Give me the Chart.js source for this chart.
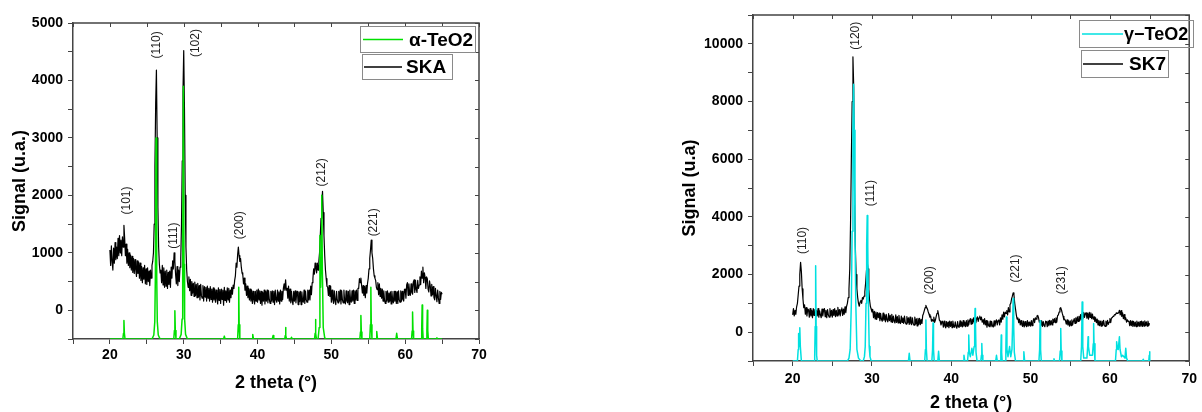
<!DOCTYPE html>
<html>
<head>
<meta charset="utf-8">
<script src="https://cdn.jsdelivr.net/npm/chart.js@4.4.1/dist/chart.umd.min.js"></script>
<style>
  body { margin: 0; background: #fff; width: 1202px; height: 412px; overflow: hidden; position: relative; }
  canvas { position: absolute; top: 0; }
  #c1 { left: 0; }
  #c2 { left: 640px; }
</style>
</head>
<body>
<canvas id="c1" width="520" height="412"></canvas>
<canvas id="c2" width="562" height="412"></canvas>
<script>
// ======================
// DATA - panel kiri (SKA / alpha-TeO2)
// ======================

// SKA : pas de 0.1 degre, de 20 a 65 (une ligne = 1 degre)
const skaStart = 20, skaStep = 0.1;
const skaY = [
  1050, 780, 1120, 850, 700, 1080, 820, 1180, 880, 1100,     // 20
  900, 1250, 950, 1300, 1000, 1220, 950, 1280, 1100, 1480,   // 21
  1250, 950, 1150, 820, 1060, 780, 1000, 740, 960, 700,      // 22
  940, 660, 900, 640, 880, 700, 590, 860, 640, 840,          // 23
  560, 820, 520, 760, 480, 740, 540, 780, 460, 720,          // 24
  450, 740, 500, 680, 430, 700, 560, 780, 850, 1000,         // 25
  1500, 2500, 3600, 4180, 3000, 1800, 1100, 800, 650, 700,   // 26
  480, 780, 440, 740, 400, 680, 420, 700, 380, 660,          // 27
  450, 680, 400, 750, 560, 860, 720, 1000, 850, 620,         // 28
  460, 760, 430, 700, 500, 750, 900, 1500, 2600, 3800,       // 29
  4520, 3500, 2000, 1100, 700, 500, 400, 580, 340, 540,      // 30
  260, 500, 300, 470, 240, 490, 260, 450, 220, 470,          // 31
  230, 430, 180, 450, 250, 210, 430, 160, 410, 230,          // 32
  400, 160, 420, 210, 380, 160, 410, 190, 370, 140,          // 33
  390, 180, 370, 140, 350, 200, 110, 390, 170, 360,          // 34
  120, 370, 190, 350, 90, 400, 170, 340, 140, 390,           // 35
  180, 380, 140, 350, 220, 400, 280, 440, 380, 520,          // 36
  600, 820, 750, 960, 1100, 950, 850, 900, 750, 650,         // 37
  620, 460, 560, 350, 460, 260, 420, 220, 380, 180,          // 38
  370, 160, 350, 120, 330, 180, 110, 330, 160, 350,          // 39
  140, 370, 180, 340, 120, 330, 90, 310, 160, 350,           // 40
  110, 330, 160, 350, 130, 340, 180, 120, 330, 160,          // 41
  340, 140, 330, 100, 350, 180, 140, 350, 160, 320,          // 42
  110, 350, 160, 330, 190, 380, 460, 350, 530, 350,          // 43
  380, 210, 420, 160, 370, 130, 330, 160, 100, 330,          // 44
  160, 340, 130, 300, 330, 100, 320, 150, 330, 100,          // 45
  320, 160, 140, 350, 120, 330, 180, 140, 350, 180,          // 46
  350, 180, 420, 270, 480, 550, 720, 630, 820, 730,          // 47
  650, 820, 700, 850, 1000, 1300, 1600, 1850, 2070, 1700,    // 48
  1300, 950, 700, 550, 420, 400, 260, 430, 240, 420,         // 49
  140, 350, 180, 120, 340, 160, 100, 330, 180, 130,          // 50
  330, 160, 350, 110, 340, 180, 130, 350, 160, 110,          // 51
  340, 160, 130, 330, 100, 350, 180, 140, 340, 160,          // 52
  350, 120, 340, 180, 350, 170, 380, 380, 550, 480,          // 53
  560, 430, 300, 430, 260, 410, 220, 430, 300, 470,          // 54
  560, 720, 900, 1050, 1220, 1000, 900, 720, 600, 560,       // 55
  520, 400, 360, 480, 270, 460, 240, 380, 210, 370,          // 56
  160, 340, 180, 120, 330, 160, 340, 140, 300, 160,          // 57
  320, 110, 330, 180, 130, 330, 160, 330, 120, 320,          // 58
  120, 340, 180, 140, 340, 160, 330, 190, 160, 360,          // 59
  370, 210, 440, 480, 260, 460, 310, 260, 460, 310,          // 60
  280, 490, 530, 310, 520, 360, 310, 520, 380, 440,          // 61
  580, 450, 680, 560, 750, 480, 650, 570, 380, 580,          // 62
  550, 370, 320, 510, 420, 250, 450, 270, 410, 220,          // 63
  180, 380, 250, 150, 350, 220, 120, 330, 190, 310,          // 64
  280                                                        // 65
];

// alpha-TeO2 (reference)
const alphaX = [
  20.0,
  21.75, 21.84, 21.9, 21.96, 22.05,
  25.7, 25.95, 26.08, 26.16, 26.25, 26.34, 26.42, 26.55, 26.8,
  28.65, 28.74, 28.8, 28.86, 28.95,
  29.4, 29.65, 29.78, 29.86, 29.95, 30.04, 30.12, 30.25, 30.5,
  35.4, 35.5, 35.6,
  37.3, 37.39, 37.45, 37.51, 37.6,
  39.25, 39.35, 39.45,
  42.0, 42.1, 42.2,
  43.68, 43.75, 43.8, 43.85, 43.92,
  44.5, 44.6, 44.7,
  47.72, 47.8, 47.85, 47.9, 47.98,
  48.2, 48.35, 48.45, 48.55, 48.62, 48.7, 48.78, 48.9, 49.1, 49.3,
  53.86, 53.94, 54.0, 54.06, 54.14,
  55.2, 55.29, 55.35, 55.41, 55.5,
  56.05, 56.15, 56.25,
  58.75, 58.85, 58.95,
  60.86, 60.94, 61.0, 61.06, 61.14,
  62.16, 62.24, 62.3, 62.36, 62.44,
  62.86, 62.94, 63.0, 63.06, 63.14,
  64.2, 64.3, 64.4,
  65.0
];
const alphaY = [
  -500,
  -500, -400, -180, -400, -500,
  -500, -430, -200, 600, 3000, 600, -200, -430, -500,
  -500, -350, -10, -350, -500,
  -500, -420, -150, 800, 3900, 800, -150, -420, -500,
  -500, -450, -500,
  -500, -250, 400, -250, -500,
  -500, -420, -500,
  -500, -440, -500,
  -500, -440, -300, -440, -500,
  -500, -470, -500,
  -500, -400, -160, -400, -500,
  -500, -300, 1300, 400, 900, 2000, 700, -300, -480, -500,
  -500, -380, -90, -380, -500,
  -500, -250, 400, -250, -500,
  -500, -370, -500,
  -500, -400, -500,
  -500, -360, -30, -360, -500,
  -500, -320, 90, -320, -500,
  -500, -350, 0, -350, -500,
  -500, -480, -500,
  -500
];

const leftPeakNames = ['(101)', '(110)', '(111)', '(102)', '(200)', '(212)', '(221)'];
const leftPeakX = [22.3, 26.27, 28.7, 31.6, 37.55, 48.65, 55.7];
const leftPeakY = [1910, 4620, 1300, 4650, 1480, 2400, 1530];

// ======================
// DATA - panel kanan (SK7 / gamma-TeO2)
// ======================

const sk7Start = 20, sk7Step = 0.1;
const sk7Y = [
  600, 820, 560, 760, 620, 880, 1000, 1300, 1600, 2000,       // 20
  2420, 2100, 1500, 1150, 850, 950, 620, 850, 560, 800,       // 21
  780, 520, 820, 560, 760, 500, 820, 580, 780, 520,           // 22
  760, 560, 820, 520, 740, 600, 500, 800, 560, 760,           // 23
  820, 540, 760, 500, 780, 600, 520, 820, 560, 760,           // 24
  520, 780, 580, 820, 540, 760, 560, 860, 600, 780,           // 25
  560, 780, 840, 580, 800, 620, 880, 680, 900, 1000,          // 26
  1200, 1500, 2200, 3800, 6000, 8000, 9550, 8500, 5000, 3000, // 27
  2000, 1500, 1200, 1000, 900, 1050, 1100, 1000, 1200, 1150,  // 28
  1250, 1400, 1700, 2100, 2450, 2200, 1500, 1100, 900, 800,   // 29
  700, 780, 500, 720, 460, 700, 440, 680, 500, 660,           // 30
  400, 640, 440, 380, 660, 420, 600, 360, 620, 420,           // 31
  360, 640, 400, 580, 360, 620, 340, 560, 380, 320,           // 32
  600, 340, 540, 320, 580, 360, 300, 560, 340, 500,           // 33
  300, 560, 340, 280, 540, 320, 500, 270, 520, 300,           // 34
  260, 500, 300, 240, 520, 280, 460, 220, 480, 270,           // 35
  480, 260, 440, 300, 580, 650, 750, 850, 930, 850,           // 36
  800, 700, 620, 520, 560, 380, 440, 380, 520, 340,           // 37
  420, 550, 650, 750, 600, 420, 380, 250, 330, 380,           // 38
  170, 380, 210, 150, 370, 190, 350, 160, 380, 200,           // 39
  370, 160, 380, 210, 170, 360, 190, 140, 370, 180,           // 40
  170, 390, 200, 350, 180, 400, 210, 350, 190, 400,           // 41
  210, 430, 250, 400, 470, 280, 450, 300, 500, 350,           // 42
  500, 330, 450, 530, 370, 500, 560, 430, 520, 350,           // 43
  430, 280, 470, 250, 400, 170, 380, 230, 190, 380,           // 44
  190, 370, 210, 180, 390, 210, 350, 430, 250, 400,           // 45
  430, 250, 500, 350, 600, 450, 700, 530, 700, 650,           // 46
  750, 600, 850, 700, 950, 1000, 1150, 1250, 1360, 1300,      // 47
  1000, 800, 600, 450, 500, 330, 450, 250, 400, 250,          // 48
  200, 380, 180, 370, 230, 190, 400, 210, 350, 230,           // 49
  210, 400, 230, 380, 470, 330, 500, 450, 560, 580,           // 50
  500, 350, 400, 230, 390, 200, 370, 230, 190, 380,           // 51
  370, 190, 380, 230, 410, 250, 400, 250, 450, 330,           // 52
  470, 330, 500, 350, 570, 600, 700, 820, 850, 760,           // 53
  650, 550, 430, 450, 400, 280, 430, 250, 390, 210,           // 54
  390, 230, 430, 250, 380, 470, 300, 500, 330, 530,           // 55
  370, 550, 400, 610, 430, 650, 470, 690, 510, 650,           // 56
  670, 490, 650, 450, 690, 510, 670, 470, 630, 450,           // 57
  530, 370, 500, 330, 450, 250, 410, 230, 380, 210,           // 58
  380, 230, 410, 250, 200, 380, 230, 410, 270, 350,           // 59
  470, 330, 500, 500, 550, 570, 610, 600, 670, 650,           // 60
  670, 670, 760, 600, 750, 550, 670, 470, 610, 430,           // 61
  500, 350, 430, 370, 380, 230, 400, 230, 380, 200,           // 62
  370, 210, 350, 190, 380, 210, 350, 200, 370, 210,           // 63
  380, 200, 370, 210, 390, 230, 360, 210, 380, 230,           // 64
  310                                                         // 65
];

// gamma-TeO2 (reference)
const gammaX = [
  20.0,
  20.6, 20.7, 20.75, 20.8, 20.9, 20.97, 21.1,
  22.7, 22.78, 22.84, 22.9, 22.96, 23.02, 23.1,
  26.9, 27.1, 27.25, 27.4, 27.5, 27.6, 27.68, 27.76, 27.86, 27.96, 28.1, 28.3, 28.6,
  28.9, 29.05, 29.15, 29.25, 29.33, 29.4, 29.47, 29.55, 29.65, 29.75, 29.9,
  34.6, 34.7, 34.8,
  36.65, 36.74, 36.8, 36.86, 36.95,
  37.55, 37.64, 37.7, 37.76, 37.85,
  38.3, 38.4, 38.5,
  41.5, 41.6, 41.7,
  42.05, 42.14, 42.2, 42.27, 42.4, 42.6, 42.72, 42.88, 42.95, 43.0, 43.05, 43.12, 43.25,
  43.72, 43.8, 43.85, 43.9, 43.98,
  45.6, 45.7, 45.8,
  46.18, 46.25, 46.3, 46.35, 46.42,
  46.8, 46.88, 46.95, 47.02, 47.15, 47.35, 47.5, 47.65, 47.73, 47.8, 47.87, 47.95, 48.1,
  49.05, 49.15, 49.25,
  51.05, 51.14, 51.2, 51.26, 51.35,
  52.87, 52.95, 53.03,
  53.65, 53.74, 53.8, 53.86, 53.95,
  56.32, 56.42, 56.5, 56.58, 56.7,
  57.1, 57.2, 57.25, 57.3, 57.45,
  57.8, 57.9, 57.95, 58.0, 58.12,
  60.7, 60.8, 60.85, 60.92, 61.05, 61.2, 61.28, 61.45, 61.6, 61.9, 62.0, 62.1, 62.25,
  64.1, 64.2, 64.3,
  64.9, 64.96, 65.0, 65.05
];
const gammaY = [
  -1000,
  -1000, -600, -50, -500, 150, -500, -1000,
  -1000, -800, 200, 2300, 200, -800, -1000,
  -1000, -900, -600, 1000, 3500, 7000, 8600, 7000, 3500, 1000, -600, -900, -1000,
  -1000, -850, -500, 1000, 3000, 4050, 3000, 1000, -500, -850, -1000,
  -1000, -730, -1000,
  -1000, -600, 420, -600, -1000,
  -1000, -600, 320, -600, -1000,
  -1000, -660, -1000,
  -1000, -800, -1000,
  -1000, -700, -100, -700, -850, -560, -800, -500, 300, 820, 300, -700, -1000,
  -1000, -800, -390, -800, -1000,
  -1000, -800, -1000,
  -1000, -700, -100, -700, -1000,
  -1000, -600, 530, -600, -850, -500, -850, -600, 200, 1170, 200, -700, -1000,
  -1000, -680, -1000,
  -1000, -600, 400, -600, -1000,
  -1000, -920, -1000,
  -1000, -650, 130, -650, -1000,
  -1000, -500, 1050, -500, -900,
  -900, -500, -160, -500, -800,
  -800, -400, 300, -400, -1000,
  -1000, -600, -330, -500, -600, -160, -600, -850, -800, -900, -560, -900, -1000,
  -1000, -940, -1000,
  -1000, -800, -680, -1000
];

const rightPeakNames = ['(110)', '(120)', '(111)', '(200)', '(221)', '(231)'];
const rightPeakX = [21.25, 27.9, 29.9, 37.3, 48.07, 53.9];
const rightPeakY = [3180, 10280, 4820, 1800, 2210, 1800];

// ======================
// HELPER
// ======================

const FONT = 'Arial, "Liberation Sans", sans-serif';
const AXIS = '#444';

function toPoints(xs, ys) {
  return ys.map((y, i) => ({ x: xs[i], y: y }));
}

function gridPoints(start, step, ys) {
  return ys.map((y, i) => ({ x: +(start + i * step).toFixed(2), y: y }));
}

const framePlugin = {
  id: 'frame',
  afterDraw(chart) {
    const { ctx, chartArea: a, scales: { x, y } } = chart;
    ctx.save();
    ctx.strokeStyle = AXIS;
    ctx.lineWidth = 1.5;
    ctx.beginPath();
    ctx.moveTo(a.left, a.top);
    ctx.lineTo(a.right, a.top);
    ctx.lineTo(a.right, a.bottom);
    ctx.stroke();
    ctx.lineWidth = 1;
    ctx.beginPath();
    x.ticks.forEach(t => {
      const px = Math.round(x.getPixelForValue(t.value)) + 0.5;
      ctx.moveTo(px, a.top);
      ctx.lineTo(px, a.top + 4);
    });
    y.ticks.forEach(t => {
      const py = Math.round(y.getPixelForValue(t.value)) + 0.5;
      ctx.moveTo(a.right, py);
      ctx.lineTo(a.right - 4, py);
    });
    ctx.stroke();
    ctx.restore();
  }
};

function peakLabels(names, xs, ys) {
  return {
    id: 'peakLabels',
    afterDatasetsDraw(chart) {
      const { ctx, scales: { x, y } } = chart;
      ctx.save();
      ctx.font = '12px ' + FONT;
      ctx.fillStyle = '#222';
      ctx.textAlign = 'center';
      ctx.textBaseline = 'middle';
      names.forEach((n, i) => {
        ctx.save();
        ctx.translate(x.getPixelForValue(xs[i]), y.getPixelForValue(ys[i]));
        ctx.rotate(-Math.PI / 2);
        ctx.fillText(n, 0, 0);
        ctx.restore();
      });
      ctx.restore();
    }
  };
}

// kotak legenda terpisah (seperti Origin)
function boxLegend(boxes) {
  return {
    id: 'boxLegend',
    afterDraw(chart) {
      const ctx = chart.ctx;
      ctx.save();
      boxes.forEach((b, i) => {
        const ds = chart.data.datasets[i];
        ctx.strokeStyle = '#8a8a8a';
        ctx.lineWidth = 1;
        ctx.strokeRect(b.left + 0.5, b.top + 0.5, b.w, b.h);
        const cy = b.top + b.h / 2 + 0.5;
        ctx.strokeStyle = ds.borderColor;
        ctx.lineWidth = 1.5;
        ctx.beginPath();
        ctx.moveTo(b.lineFrom, cy);
        ctx.lineTo(b.lineTo, cy);
        ctx.stroke();
        ctx.fillStyle = '#000';
        ctx.font = 'bold ' + b.size + 'px ' + FONT;
        ctx.textBaseline = 'middle';
        ctx.fillText(ds.label, b.textX, cy + 1);
      });
      ctx.restore();
    }
  };
}

function makeChart(id, cfg) {
  return new Chart(document.getElementById(id), {
    type: 'line',
    data: {
      datasets: [
        { label: cfg.refLabel, data: cfg.refData, borderColor: cfg.refColor, borderWidth: 1.5 },
        { label: cfg.sampleLabel, data: cfg.sampleData, borderColor: '#000', borderWidth: 1.2 }
      ]
    },
    options: {
      responsive: false,
      animation: false,
      elements: {
        point: { radius: 0 },
        line: { tension: 0, borderJoinStyle: 'round', fill: false }
      },
      layout: { padding: cfg.padding },
      plugins: { legend: { display: false }, tooltip: { enabled: false } },
      scales: {
        x: {
          type: 'linear', min: 15, max: 70,
          afterFit: s => { s.height = cfg.xHeight; },
          border: { color: AXIS, width: 1.5 },
          grid: { drawOnChartArea: false, tickLength: 5, color: AXIS },
          ticks: {
            stepSize: 5, autoSkip: false, maxRotation: 0, padding: cfg.xPad,
            color: '#000', font: { family: FONT, size: 14, weight: 'bold' },
            callback: v => (v % 10 === 0 ? v : '')
          },
          title: {
            display: true, text: '2 theta (°)', color: '#000',
            font: { family: FONT, size: 18, weight: 'bold', lineHeight: 1 },
            padding: { top: 0, bottom: cfg.xTitlePad }
          }
        },
        y: {
          type: 'linear', min: cfg.yMin, max: cfg.yMax,
          afterFit: s => { s.width = cfg.yWidth; },
          border: { color: AXIS, width: 1.5 },
          grid: { drawOnChartArea: false, tickLength: 5, color: AXIS },
          ticks: {
            stepSize: cfg.yStep, autoSkip: false, padding: 5, maxTicksLimit: 100,
            color: '#000', font: { family: FONT, size: 14, weight: 'bold' },
            callback: v => (v % cfg.yLabelEvery === 0 ? v : '')
          },
          title: {
            display: true, text: cfg.yTitle, color: '#000',
            font: { family: FONT, size: 18, weight: 'bold', lineHeight: 1 },
            padding: { top: cfg.yTitlePad, bottom: 0 }
          }
        }
      }
    },
    plugins: [framePlugin, cfg.labels, cfg.legend]
  });
}

// ======================
// GRAFIK
// ======================

makeChart('c1', {
  refLabel: 'α-TeO2', refColor: '#00e000', refData: toPoints(alphaX, alphaY),
  sampleLabel: 'SKA', sampleData: gridPoints(skaStart, skaStep, skaY),
  padding: { top: 23, right: 41, left: 0, bottom: 0 },
  xHeight: 73, yWidth: 73, xPad: 3, xTitlePad: 20, yTitlePad: 11,
  yMin: -500, yMax: 5000, yStep: 500, yLabelEvery: 1000,
  yTitle: 'Signal (u.a.)',
  labels: peakLabels(leftPeakNames, leftPeakX, leftPeakY),
  legend: boxLegend([
    { left: 360, top: 26, w: 115, h: 26, lineFrom: 363, lineTo: 403, textX: 409, size: 19 },
    { left: 362, top: 54, w: 90, h: 25, lineFrom: 364, lineTo: 402, textX: 406, size: 19 }
  ])
});

makeChart('c2', {
  refLabel: 'γ−TeO2', refColor: '#00e0e0', refData: toPoints(gammaX, gammaY),
  sampleLabel: 'SK7', sampleData: gridPoints(sk7Start, sk7Step, sk7Y),
  padding: { top: 15, right: 7, left: 0, bottom: 0 },
  xHeight: 51, yWidth: 113, xPad: 5, xTitlePad: 0, yTitlePad: 41,
  yMin: -1000, yMax: 11000, yStep: 1000, yLabelEvery: 2000,
  yTitle: 'Signal (u.a)',
  labels: peakLabels(rightPeakNames, rightPeakX, rightPeakY),
  legend: boxLegend([
    { left: 439, top: 20, w: 114, h: 27, lineFrom: 442, lineTo: 483, textX: 484, size: 18 },
    { left: 441, top: 50, w: 87, h: 27, lineFrom: 443, lineTo: 483, textX: 489, size: 19 }
  ])
});
</script>
</body>
</html>
